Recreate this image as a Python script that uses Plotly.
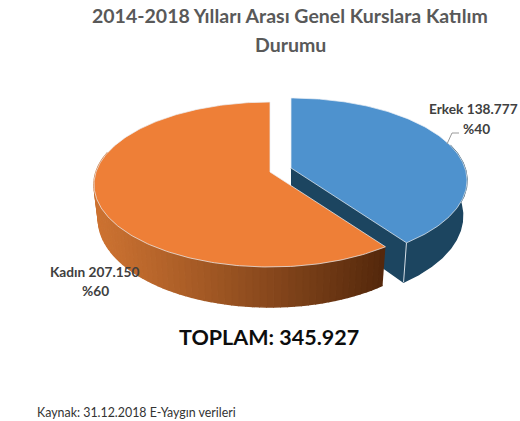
import numpy as np
import plotly.graph_objects as go

categories = ["Erkek", "Kadın"]
values = [138777, 207150]
value_labels = ["138.777", "207.150"]
percent_labels = ["%40", "%60"]
title_lines = ["2014-2018 Yılları Arası Genel Kurslara Katılım", "Durumu"]
total_label = "TOPLAM: 345.927"
source_label = "Kaynak: 31.12.2018 E-Yaygın verileri"

TOP = ["#4E92CE", "#EE7F37"]
WALL_BLUE = "#1C4560"
RIM = "rgba(235,240,245,0.9)"
ORANGE_L = np.array([205, 115, 50])
ORANGE_R = np.array([84, 40, 12])

# projection of the tilted pie onto the page
A, B, P, DEPTH, SHRINK = 174.0, 80.6, 0.1515, 34.5, 0.975
CENTERS = [(291.0, 168.0), (270.0, 172.0)]

fractions = np.array(values, dtype=float) / sum(values)
split = 2 * np.pi * fractions[0]
spans = [(0.0, split), (split, 2 * np.pi)]


def project(theta, center, r=1.0):
    u, v = r * np.sin(theta), r * np.cos(theta)
    w = 1 + P * v
    return center[0] + A * u / w, center[1] - B * v / w, DEPTH / w


def lower(x, center):
    return center + (x - center) * SHRINK


def arc(span, center, n=160):
    return project(np.linspace(span[0], span[1], n), center)


def poly(x, y, fill, line=None, width=0.0):
    return go.Scatter(
        x=list(x), y=list(y), mode="lines", fill="toself", fillcolor=fill,
        line=dict(color=line or fill, width=width if line else 1.5),
        hoverinfo="skip", showlegend=False,
    )


fig = go.Figure()

# blue wedge: radial wall, outer wall, top
cx, cy = CENTERS[0]
tx, ty, td = project(np.array([spans[0][1]]), CENTERS[0])
_, _, d0 = project(np.array([np.pi / 2]), CENTERS[0], r=0.0)
tbx = lower(tx[0], cx)
fig.add_trace(poly([cx, tx[0], tbx, cx], [cy, ty[0], ty[0] + td[0], cy + d0[0]], WALL_BLUE))
ax, ay, ad = arc((np.pi / 2 - 0.3, spans[0][1]), CENTERS[0])
fig.add_trace(poly(np.r_[ax, lower(ax, cx)[::-1]], np.r_[ay, (ay + ad)[::-1]], WALL_BLUE))
fig.add_trace(go.Scatter(x=[tx[0], tbx], y=[ty[0], ty[0] + td[0]], mode="lines",
                         line=dict(color=RIM, width=1), hoverinfo="skip", showlegend=False))
bx, by, _ = arc(spans[0], CENTERS[0])
fig.add_trace(poly(np.r_[cx, bx, cx], np.r_[cy, by, cy], TOP[0], RIM, 0.8))

# orange wedge: outer wall as shaded strips, then top
edges = np.linspace(spans[1][0], 3 * np.pi / 2 + 0.25, 70)
ex, ey, ed = project(edges, CENTERS[1])
lx = lower(ex, CENTERS[1][0])
xmin, xmax = ex.min(), ex.max()
for i in range(len(edges) - 1):
    t = ((ex[i] + ex[i + 1]) / 2 - xmin) / (xmax - xmin)
    c = (ORANGE_L + (ORANGE_R - ORANGE_L) * t ** 1.1).astype(int)
    col = f"rgb({c[0]},{c[1]},{c[2]})"
    fig.add_trace(poly([ex[i], ex[i + 1], lx[i + 1], lx[i]],
                       [ey[i], ey[i + 1], ey[i + 1] + ed[i + 1] - 0.7, ey[i] + ed[i] - 0.7], col))
ox, oy, _ = arc(spans[1], CENTERS[1], 240)
fig.add_trace(poly(np.r_[CENTERS[1][0], ox, CENTERS[1][0]],
                   np.r_[CENTERS[1][1], oy, CENTERS[1][1]], TOP[1], RIM, 0.8))

# leader line for the blue label
fig.add_trace(go.Scatter(x=[447, 452, 459], y=[144, 133, 133], mode="lines",
                         line=dict(color="#9a9a9a", width=1), hoverinfo="skip", showlegend=False))

FONT = "Lato"


def note(x, y, text, size, color, bold=True):
    fig.add_annotation(x=x, y=y, text=f"<b>{text}</b>" if bold else text, showarrow=False,
                       xref="x", yref="y", xanchor="center", yanchor="middle",
                       font=dict(family=FONT, size=size, color=color))


note(290, 15, title_lines[0], 19.5, "#595959")
note(290, 44, title_lines[1], 19.5, "#595959")
note(473.5, 108, f"{categories[0]} {value_labels[0]}", 13.7, "#404040")
note(476, 128, percent_labels[0], 13.7, "#404040")
note(95, 271, f"{categories[1]} {value_labels[1]}", 13.7, "#404040")
note(95, 290, percent_labels[1], 13.7, "#404040")
note(269, 337, total_label, 21.5, "#0d0d0d")
note(136, 412, source_label, 12.4, "#333333", bold=False)

fig.update_layout(
    width=520, height=421, autosize=False,
    margin=dict(l=0, r=0, t=0, b=0),
    paper_bgcolor="white", plot_bgcolor="white",
    xaxis=dict(range=[0, 520], visible=False, fixedrange=True),
    yaxis=dict(range=[421, 0], visible=False, fixedrange=True),
    showlegend=False,
)
fig.write_html("out.html", config={"displayModeBar": False},
               post_script="document.body.style.margin='0';document.documentElement.style.overflow='hidden';")
